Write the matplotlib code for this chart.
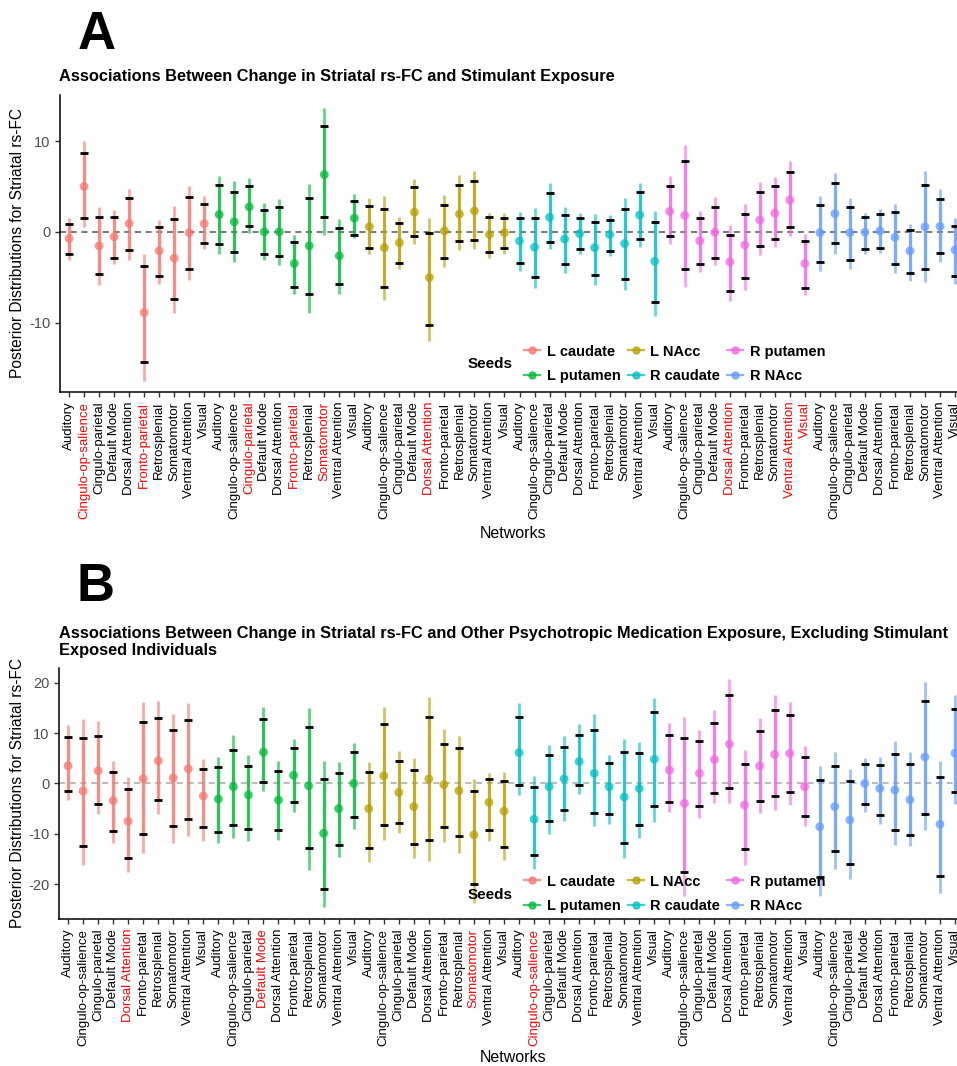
import numpy as np
import matplotlib
matplotlib.use("Agg")
import matplotlib.pyplot as plt
from matplotlib.lines import Line2D

plt.rcParams['font.family'] = ['Liberation Sans', 'DejaVu Sans']

W, H = 957, 1066

seeds = ["L caudate", "L putamen", "L NAcc", "R caudate", "R putamen", "R NAcc"]
seed_colors = {"L caudate": "#F8766D", "L NAcc": "#B79F00", "L putamen": "#00BA38",
               "R caudate": "#00BFC4", "R NAcc": "#619CFF", "R putamen": "#F564E3"}
networks = ["Auditory", "Cingulo-op-salience", "Cingulo-parietal", "Default Mode",
            "Dorsal Attention", "Fronto-parietal", "Retrosplenial", "Somatomotor",
            "Ventral Attention", "Visual"]
legend_order = ["L caudate", "L putamen", "L NAcc", "R caudate", "R putamen", "R NAcc"]

# Panel A: stimulant exposure (10 networks per seed, seeds in plot order)
a_median = [-0.74, 5.0, -1.55, -0.55, 0.9, -8.9, -2.1, -2.9, -0.1, 0.9,
            1.9, 1.1, 2.75, 0.0, 0.0, -3.5, -1.55, 6.3, -2.65, 1.5,
            0.55, -1.75, -1.2, 2.15, -5.05, 0.1, 1.95, 2.3, -0.3, -0.1,
            -1.0, -1.7, 1.6, -0.8, -0.2, -1.75, -0.3, -1.3, 1.85, -3.25,
            2.25, 1.8, -1.0, -0.05, -3.3, -1.45, 1.3, 2.05, 3.5, -3.5,
            -0.1, 2.0, -0.1, -0.05, 0.1, -0.6, -2.1, 0.55, 0.6, -2.0]
a_inner_hi = [0.85, 8.7, 1.6, 1.6, 3.7, -3.75, 0.5, 1.4, 3.8, 3.1,
              5.1, 4.4, 5.0, 2.4, 2.7, -1.15, 3.7, 11.6, 0.4, 3.4,
              2.85, 2.5, 0.95, 4.9, -0.1, 3.0, 5.15, 5.6, 1.6, 1.55,
              1.5, 1.5, 4.3, 1.9, 1.55, 1.05, 1.3, 2.5, 4.4, 1.05,
              5.05, 7.75, 1.5, 2.75, -0.3, 2.0, 4.4, 5.05, 6.55, -1.05,
              2.9, 5.35, 2.75, 1.65, 1.95, 2.2, 0.25, 5.15, 3.6, 0.65]
a_inner_lo = [-2.4, 1.5, -4.7, -2.9, -2.0, -14.3, -4.9, -7.4, -4.1, -1.25,
              -1.4, -2.25, 0.6, -2.4, -2.7, -6.1, -6.9, 1.6, -5.8, -0.4,
              -1.75, -6.1, -3.4, -0.5, -10.25, -2.9, -1.05, -0.9, -2.2, -1.75,
              -3.4, -5.0, -1.1, -3.6, -1.95, -4.8, -2.1, -5.2, -0.8, -7.75,
              -0.5, -4.15, -3.55, -2.9, -6.55, -5.05, -1.6, -0.8, 0.55, -6.15,
              -3.35, -1.2, -3.15, -1.9, -1.75, -3.55, -4.55, -4.1, -2.35, -4.85]
a_outer_hi = [1.5, 10.0, 2.7, 2.4, 4.7, -2.4, 1.3, 2.8, 5.0, 3.9,
              6.15, 5.6, 5.9, 3.2, 3.6, -0.4, 5.3, 13.6, 1.4, 4.2,
              3.75, 3.9, 1.65, 5.8, 1.5, 4.05, 6.25, 6.7, 2.1, 2.1,
              2.2, 2.6, 5.35, 2.75, 2.1, 2.0, 1.9, 3.7, 5.4, 2.3,
              6.1, 9.6, 2.3, 3.8, 0.75, 3.1, 5.45, 6.05, 7.75, -0.2,
              3.9, 6.5, 3.75, 2.1, 2.55, 3.05, 0.9, 6.7, 4.7, 1.5]
a_outer_lo = [-3.1, 0.5, -5.9, -3.6, -3.1, -16.4, -5.8, -8.9, -5.3, -1.95,
              -2.5, -3.3, -0.1, -3.1, -3.7, -6.9, -8.9, -0.3, -6.8, -0.7,
              -2.5, -7.5, -4.15, -1.3, -12.05, -3.9, -2.0, -1.95, -2.85, -2.4,
              -4.3, -6.15, -1.85, -4.5, -2.5, -5.9, -2.65, -6.45, -1.65, -9.3,
              -1.4, -6.1, -4.4, -3.7, -7.65, -6.45, -2.6, -1.65, -0.5, -7.0,
              -4.35, -2.4, -4.15, -2.5, -2.3, -4.5, -5.45, -5.5, -3.3, -5.7]
a_red = [("L caudate", "Cingulo-op-salience"), ("L caudate", "Fronto-parietal"),
         ("L putamen", "Cingulo-parietal"), ("L putamen", "Fronto-parietal"),
         ("L putamen", "Somatomotor"), ("L NAcc", "Dorsal Attention"),
         ("R putamen", "Dorsal Attention"), ("R putamen", "Ventral Attention"),
         ("R putamen", "Visual")]

# Panel B: other psychotropic medication exposure
b_median = [3.5, -1.5, 2.5, -3.4, -7.5, 0.9, 4.5, 1.1, 2.9, -2.5,
            -3.1, -0.65, -2.3, 6.2, -3.3, 1.6, -0.45, -9.9, -5.0, 0.0,
            -5.0, 1.5, -1.8, -4.6, 0.9, -0.25, -1.45, -10.2, -3.75, -5.5,
            6.1, -7.1, -0.65, 0.9, 4.35, 2.0, -0.65, -2.7, -1.0, 4.8,
            2.65, -3.95, 2.0, 4.75, 7.8, -4.3, 3.45, 5.75, 5.95, -0.65,
            -8.6, -4.6, -7.25, 0.0, -1.0, -1.3, -3.25, 5.25, -8.1, 6.0]
b_inner_hi = [9.3, 9.1, 9.5, 2.3, -1.1, 12.1, 12.9, 10.5, 12.5, 2.9,
              3.2, 6.7, 3.55, 12.8, 2.45, 7.0, 11.15, 0.9, 2.05, 6.15,
              2.2, 11.7, 4.5, 2.7, 13.2, 7.9, 7.05, -1.6, 0.8, 0.5,
              13.1, -0.65, 5.6, 7.3, 9.6, 10.55, 4.1, 6.15, 5.95, 14.2,
              9.6, 9.05, 8.4, 11.9, 17.5, 3.95, 10.4, 14.65, 13.65, 5.3,
              0.65, 3.45, 0.5, 3.8, 3.6, 5.9, 3.8, 16.3, 1.35, 14.8]
b_inner_lo = [-1.5, -12.5, -4.0, -9.4, -14.8, -10.1, -3.3, -8.5, -7.1, -8.7,
              -9.6, -8.2, -9.0, 0.2, -9.3, -3.75, -12.9, -20.9, -12.2, -6.6,
              -12.8, -8.2, -7.9, -12.1, -11.3, -8.7, -10.5, -20.0, -9.25, -12.6,
              -0.3, -14.2, -7.5, -5.35, -0.3, -5.9, -6.15, -11.75, -8.2, -4.4,
              -3.6, -17.5, -4.5, -1.85, -0.85, -13.1, -3.55, -2.45, -1.8, -6.4,
              -18.6, -13.5, -15.9, -4.1, -6.2, -9.3, -10.3, -6.0, -18.3, -1.8]
b_outer_hi = [11.5, 12.7, 12.3, 4.5, 1.2, 16.2, 16.3, 13.8, 15.9, 4.8,
              5.3, 9.7, 5.6, 15.2, 4.4, 8.8, 15.05, 4.4, 4.3, 8.1,
              4.3, 15.2, 6.4, 4.95, 17.2, 10.8, 9.45, 0.8, 2.1, 2.3,
              16.0, 1.45, 7.6, 9.45, 11.75, 13.7, 5.6, 8.9, 8.2, 17.0,
              12.0, 13.2, 10.55, 14.5, 20.8, 6.6, 13.0, 17.5, 16.2, 7.4,
              3.45, 6.25, 2.85, 5.1, 5.3, 8.5, 6.3, 20.2, 4.5, 17.5]
b_outer_lo = [-3.3, -16.1, -6.0, -11.8, -17.5, -13.9, -6.0, -11.9, -10.5, -11.4,
              -11.9, -10.9, -11.4, -1.45, -11.2, -5.6, -17.2, -24.6, -14.65, -9.1,
              -15.5, -11.2, -9.9, -14.85, -15.3, -11.55, -13.9, -23.8, -11.4, -15.2,
              -2.3, -17.0, -10.0, -7.45, -2.0, -8.4, -8.1, -14.7, -10.9, -7.6,
              -5.6, -22.3, -6.9, -3.95, -3.8, -16.2, -5.95, -5.3, -4.3, -8.4,
              -22.4, -17.0, -18.9, -5.7, -8.1, -12.3, -12.5, -9.2, -21.8, -4.0]
b_red = [("L caudate", "Dorsal Attention"), ("L putamen", "Default Mode"),
         ("L NAcc", "Somatomotor"), ("R caudate", "Cingulo-op-salience")]


def px(x, y):
    return x / W, 1 - y / H


def draw_panel(ax, med, ilo, ihi, olo, ohi, red, ylim, yticks, zero_color):
    x = np.arange(1, len(med) + 1)
    seed_of = [s for s in seeds for _ in networks]
    cols = [seed_colors[s] for s in seed_of]
    ax.axhline(0, color=zero_color, lw=1.1, ls=(0, (4, 3)), zorder=1)
    ax.vlines(x, olo, ohi, colors=cols, lw=2.0, alpha=0.62, zorder=2)
    ax.vlines(x, ilo, ihi, colors=cols, lw=2.4, alpha=0.62, zorder=2)
    ax.scatter(x, med, s=40, c=cols, alpha=0.75, zorder=3, linewidths=0)
    ax.plot(x, ilo, ls='none', marker='_', ms=6, mew=2, color='black', zorder=4)
    ax.plot(x, ihi, ls='none', marker='_', ms=6, mew=2, color='black', zorder=4)

    ax.set_xlim(0.4, len(med) + 0.6)
    ax.set_ylim(*ylim)
    ax.set_xticks(x)
    ax.set_xticklabels(networks * len(seeds), rotation=90, fontsize=9.5)
    for lab, s, n in zip(ax.get_xticklabels(), seed_of, networks * len(seeds)):
        lab.set_color('red' if (s, n) in red else 'black')
    ax.set_yticks(yticks)
    ax.set_yticklabels([str(t) for t in yticks], fontsize=10.5, color='#4D4D4D')
    ax.tick_params(axis='both', direction='out', length=3.5, width=1, color='#333333')
    for side in ['top', 'right']:
        ax.spines[side].set_visible(False)
    for side in ['left', 'bottom']:
        ax.spines[side].set_linewidth(1.1)
        ax.spines[side].set_color('black')


def add_legend(ax, x0, y0):
    handles = [Line2D([0], [0], color=seed_colors[s], marker='o', ms=5, lw=1.6, alpha=0.75)
               for s in legend_order]
    leg = ax.legend(handles, legend_order, ncol=3, frameon=False, loc='center left',
                    bbox_to_anchor=px(x0, y0), bbox_transform=fig.transFigure,
                    prop={'weight': 'bold', 'size': 10.5}, handlelength=1.1,
                    handletextpad=0.45, columnspacing=0.5, labelspacing=0.75,
                    borderpad=0, borderaxespad=0)
    leg.set_zorder(10)


fig = plt.figure(figsize=(W / 100, H / 100), dpi=100)

# Panel A
ax_a = fig.add_axes([60 / W, 1 - 392 / H, (964 - 60) / W, (392 - 95) / H])
draw_panel(ax_a, a_median, a_inner_lo, a_inner_hi, a_outer_lo, a_outer_hi, a_red,
           (-17.65, 15.07), [-10, 0, 10], '#555555')
add_legend(ax_a, 524, 364)
fig.text(*px(468, 364), "Seeds", fontsize=11, fontweight='bold', va='center', ha='left')
fig.text(*px(97, 35), "A", fontsize=38, fontweight='bold', ha='center', va='center')
fig.text(*px(59, 76), "Associations Between Change in Striatal rs-FC and Stimulant Exposure",
         fontsize=11.8, fontweight='bold', ha='left', va='center')
fig.text(*px(18, 243), "Posterior Distributions for Striatal rs-FC", fontsize=11.2,
         rotation=90, ha='center', va='center')
fig.text(*px(513, 533), "Networks", fontsize=11.5, ha='center', va='center')

# Panel B
ax_b = fig.add_axes([59 / W, 1 - 919 / H, (964 - 59) / W, (919 - 668) / H])
draw_panel(ax_b, b_median, b_inner_lo, b_inner_hi, b_outer_lo, b_outer_hi, b_red,
           (-26.9, 22.9), [-20, -10, 0, 10, 20], '#AAAAAA')
add_legend(ax_b, 524, 894)
fig.text(*px(468, 895), "Seeds", fontsize=11, fontweight='bold', va='center', ha='left')
fig.text(*px(96, 587), "B", fontsize=38, fontweight='bold', ha='center', va='center')
fig.text(*px(59, 642), "Associations Between Change in Striatal rs-FC and Other Psychotropic "
         "Medication Exposure, Excluding Stimulant\nExposed Individuals",
         fontsize=11.8, fontweight='bold', ha='left', va='center', linespacing=1.15)
fig.text(*px(18, 793), "Posterior Distributions for Striatal rs-FC", fontsize=11.2,
         rotation=90, ha='center', va='center')
fig.text(*px(513, 1057), "Networks", fontsize=11.5, ha='center', va='center')

fig.savefig("out.png", dpi=100)
